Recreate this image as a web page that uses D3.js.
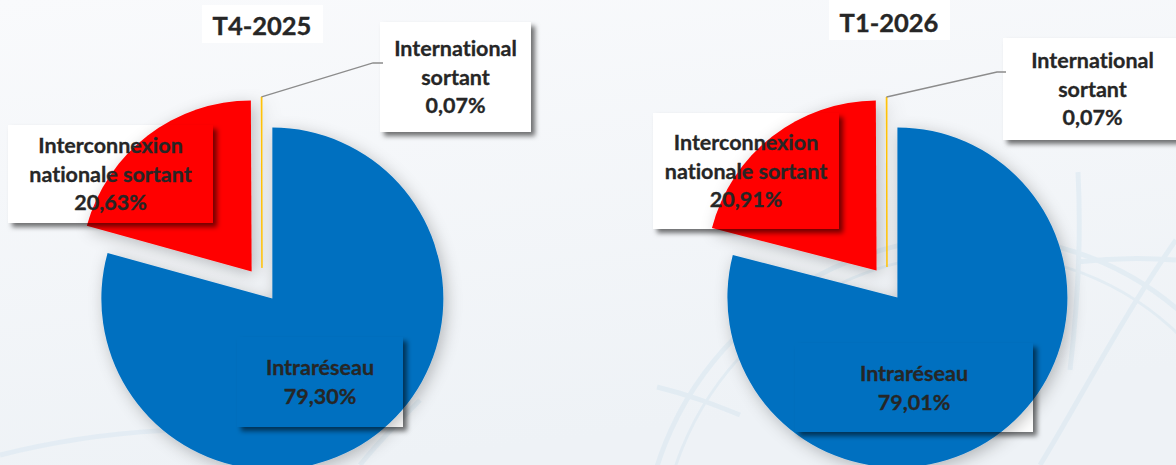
<!DOCTYPE html>
<html><head><meta charset="utf-8">
<script src="https://cdn.jsdelivr.net/npm/d3@7"></script>
<style>html,body{margin:0;padding:0;background:#f5f7fa;}svg{display:block;}text{font-variant-ligatures:none;font-feature-settings:"liga" 0,"clig" 0;}</style>
</head><body><svg id="c" width="1176" height="465"></svg>
<script>
// ---- data ----
const categories = ["Intraréseau", "Interconnexion nationale sortant", "International sortant"];
const labelLines = [["Intraréseau"], ["Interconnexion", "nationale sortant"], ["International", "sortant"]];
const periods = ["T4-2025", "T1-2026"];
const valuesT4 = [79.30, 20.63, 0.07];
const valuesT1 = [79.01, 20.91, 0.07];
const sliceColors = ["#0070c0", "#ff0000", "#ffc000"];

// ---- layout ----
const W = 1176, H = 465;
const layout = [
  {cx: 262, cy: 285, r: 171, title: {x: 262, y: 35, box: [202, 5, 323, 43]},
   boxes: [[237, 337, 403, 427], [8, 125, 213, 223], [380, 22, 531, 132]],
   leader: [[373, 63], [383, 63]]},
  {cx: 887, cy: 284, r: 170, title: {x: 889, y: 32, box: [829, 0, 950, 40]},
   boxes: [[795, 343, 1033, 432], [653, 113, 839, 229], [1003, 38, 1182, 140]],
   leader: [[997, 72], [1006, 72]]}
];
const seriesValues = [valuesT4, valuesT1];
const explode = 0.1;
const FONT = "Lato, 'Open Sans', sans-serif";
const lineH = 28.7, capH = 15.5;

const fr = d3.formatLocale({decimal: ",", thousands: " ", grouping: [3], currency: ["", "€"]});
const pct = v => fr.format(".2f")(v) + "%";

const svg = d3.select("#c");
const defs = svg.append("defs");

const bg = defs.append("linearGradient").attr("id", "bg").attr("x1", 0).attr("y1", 0).attr("x2", 0.3).attr("y2", 1);
bg.append("stop").attr("offset", 0).attr("stop-color", "#f9fafc");
bg.append("stop").attr("offset", 1).attr("stop-color", "#eef2f6");

const fp = defs.append("filter").attr("id", "pieShadow").attr("x", "-30%").attr("y", "-30%").attr("width", "160%").attr("height", "160%");
fp.append("feGaussianBlur").attr("in", "SourceAlpha").attr("stdDeviation", 8).attr("result", "b");
fp.append("feOffset").attr("in", "b").attr("dx", 3).attr("dy", 4).attr("result", "o");
fp.append("feFlood").attr("flood-color", "#000").attr("flood-opacity", 0.25).attr("result", "f");
fp.append("feComposite").attr("in", "f").attr("in2", "o").attr("operator", "in").attr("result", "s");
const fpm = fp.append("feMerge");
fpm.append("feMergeNode").attr("in", "s");
fpm.append("feMergeNode").attr("in", "SourceGraphic");

const fb = defs.append("filter").attr("id", "boxShadow").attr("x", "-20%").attr("y", "-20%").attr("width", "140%").attr("height", "140%");
fb.append("feGaussianBlur").attr("in", "SourceAlpha").attr("stdDeviation", 2.5).attr("result", "b");
fb.append("feOffset").attr("in", "b").attr("dx", 4).attr("dy", 4).attr("result", "o");
fb.append("feFlood").attr("flood-color", "#000").attr("flood-opacity", 0.55).attr("result", "f");
fb.append("feComposite").attr("in", "f").attr("in2", "o").attr("operator", "in");

svg.append("rect").attr("width", W).attr("height", H).attr("fill", "url(#bg)");

// faint decorative globe lines
const deco = svg.append("g").attr("fill", "none").attr("stroke", "#cfe2ee").attr("stroke-width", 5).attr("opacity", 0.38);
deco.append("ellipse").attr("cx", 960).attr("cy", 540).attr("rx", 320).attr("ry", 300).attr("transform", "rotate(-25 960 540)");
deco.append("ellipse").attr("cx", 960).attr("cy", 540).attr("rx", 302).attr("ry", 283).attr("transform", "rotate(-25 960 540)").attr("stroke-width", 3);
deco.append("path").attr("d", "M1078,172 C1082,250 1076,320 1070,370");
deco.append("path").attr("d", "M1076,262 C1110,258 1150,258 1176,260");
deco.append("path").attr("d", "M1176,240 C1120,320 1080,400 1040,465");
deco.append("path").attr("d", "M657,387 C690,395 715,405 740,415");
deco.append("path").attr("d", "M0,455 C100,430 220,420 330,440");
deco.append("path").attr("d", "M360,465 C380,440 400,420 420,400");

const pie = d3.pie().sort(null).value(d => d).startAngle(0).endAngle(2 * Math.PI);

layout.forEach((L, pi) => {
  const vals = seriesValues[pi];
  const arcs = pie(vals);
  const arc = d3.arc().innerRadius(0).outerRadius(L.r);
  const off = a => {
    const m = (a.startAngle + a.endAngle) / 2;
    return [Math.sin(m) * explode * L.r, -Math.cos(m) * explode * L.r];
  };

  const tb = L.title.box;
  svg.append("rect").attr("x", tb[0]).attr("y", tb[1]).attr("width", tb[2] - tb[0]).attr("height", tb[3] - tb[1]).attr("fill", "#ffffff");
  svg.append("text").attr("x", L.title.x).attr("y", L.title.y).attr("text-anchor", "middle")
    .attr("font-family", FONT).attr("font-weight", 700).attr("font-size", 25.5).attr("fill", "#262626")
    .attr("stroke", "#262626").attr("stroke-width", 0.35).text(periods[pi]);

  L.boxes.forEach(b => {
    svg.append("rect").attr("x", b[0]).attr("y", b[1]).attr("width", b[2] - b[0]).attr("height", b[3] - b[1]).attr("fill", "#ffffff");
  });

  const g = svg.append("g").attr("transform", `translate(${L.cx},${L.cy})`).attr("filter", "url(#pieShadow)");
  g.selectAll("path").data(arcs).join("path")
    .attr("transform", d => `translate(${off(d)})`)
    .attr("d", arc)
    .attr("fill", (d, i) => sliceColors[i])
    .attr("stroke", (d, i) => i === 2 ? sliceColors[i] : "none")
    .attr("stroke-width", 1);

  L.boxes.forEach((b, bi) => {
    const id = `clip${pi}_${bi}`;
    defs.append("clipPath").attr("id", id).append("path")
      .attr("clip-rule", "evenodd")
      .attr("d", `M0,0H${W}V${H}H0Z M${b[0]},${b[1]}H${b[2]}V${b[3]}H${b[0]}Z`);
    svg.append("g").attr("clip-path", `url(#${id})`)
      .append("rect").attr("x", b[0]).attr("y", b[1]).attr("width", b[2] - b[0]).attr("height", b[3] - b[1])
      .attr("fill", "#fff").attr("filter", "url(#boxShadow)");
  });

  const a3 = arcs[2];
  const m3 = (a3.startAngle + a3.endAngle) / 2;
  const o3 = off(a3);
  const p0 = [L.cx + o3[0] + Math.sin(m3) * L.r, L.cy + o3[1] - Math.cos(m3) * L.r];
  svg.append("path").attr("d", d3.line()([p0, L.leader[0], L.leader[1]]))
    .attr("fill", "none").attr("stroke", "#8c8c8c").attr("stroke-width", 1.3);

  L.boxes.forEach((b, i) => {
    const lines = labelLines[i].concat([pct(vals[i])]);
    const cxT = (b[0] + b[2]) / 2, cyT = (b[1] + b[3]) / 2;
    const y0 = cyT - (lines.length - 1) * lineH / 2 + capH / 2;
    const t = svg.append("text").attr("text-anchor", "middle").attr("font-family", FONT)
      .attr("font-weight", 700).attr("font-size", 21.5).attr("fill", "#262626")
      .attr("stroke", "#262626").attr("stroke-width", 0.3);
    lines.forEach((s, k) => t.append("tspan").attr("x", cxT).attr("y", y0 + k * lineH).text(s));
  });
});
</script></body></html>
